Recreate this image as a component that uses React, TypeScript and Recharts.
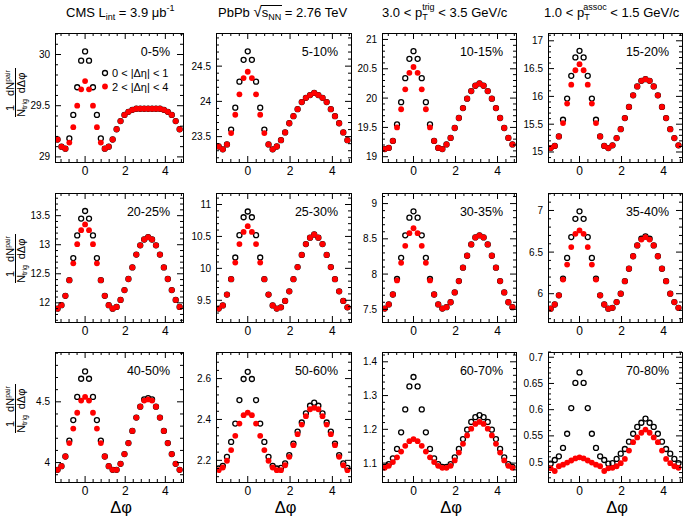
import React from 'react';
import { ScatterChart, Scatter, XAxis, YAxis } from 'recharts';

const FONT = '"Liberation Sans", Arial, Helvetica, sans-serif';

// bin centres in delta-phi (rad)
const dphi = [-1.374, -1.178, -0.982, -0.785, -0.589, -0.393, -0.196, 0, 0.196, 0.393, 0.589, 0.785, 0.982, 1.178, 1.374,
  1.571, 1.767, 1.963, 2.16, 2.356, 2.553, 2.749, 2.945, 3.142, 3.338, 3.534, 3.731, 3.927, 4.123, 4.32, 4.516, 4.712];

const centralityLabels = ['0-5%', '5-10%', '10-15%', '15-20%', '20-25%', '25-30%', '30-35%', '35-40%', '40-50%', '50-60%', '60-70%', '70-80%'];

const xTickLabels = [0, 2, 4];
const xAllTicks = [-1.2, -0.8, -0.4, 0, 0.4, 0.8, 1.2, 1.6, 2, 2.4, 2.8, 3.2, 3.6, 4, 4.4, 4.8];

// 0 < |deta| < 1 (open black) and 2 < |deta| < 4 (filled red)
const short_0_5 = [29.17, 29.10, 29.08, 29.18, 29.41, 29.68, 29.94, 30.03, 29.94, 29.68, 29.41, 29.18, 29.08, 29.10, 29.17, 29.27, 29.35, 29.41, 29.44, 29.46, 29.47, 29.47, 29.47, 29.47, 29.47, 29.47, 29.47, 29.46, 29.44, 29.41, 29.35, 29.27];
const long_0_5 = [29.17, 29.10, 29.08, 29.14, 29.29, 29.50, 29.66, 29.74, 29.66, 29.50, 29.29, 29.14, 29.08, 29.10, 29.17, 29.27, 29.35, 29.41, 29.44, 29.46, 29.47, 29.47, 29.47, 29.47, 29.47, 29.47, 29.47, 29.46, 29.44, 29.41, 29.35, 29.27];

const short_5_10 = [23.36, 23.32, 23.39, 23.60, 23.91, 24.28, 24.59, 24.71, 24.59, 24.28, 23.91, 23.60, 23.39, 23.32, 23.36, 23.45, 23.56, 23.69, 23.79, 23.89, 23.99, 24.05, 24.09, 24.12, 24.09, 24.05, 23.99, 23.89, 23.79, 23.69, 23.56, 23.45];
const long_5_10 = [23.36, 23.32, 23.39, 23.55, 23.81, 24.10, 24.33, 24.42, 24.33, 24.10, 23.81, 23.55, 23.39, 23.32, 23.36, 23.45, 23.56, 23.69, 23.79, 23.89, 23.99, 24.05, 24.09, 24.12, 24.09, 24.05, 23.99, 23.89, 23.79, 23.69, 23.56, 23.45];

const short_10_15 = [19.13, 19.15, 19.27, 19.55, 19.93, 20.34, 20.67, 20.80, 20.67, 20.34, 19.93, 19.55, 19.27, 19.15, 19.13, 19.21, 19.32, 19.49, 19.66, 19.83, 19.99, 20.12, 20.21, 20.25, 20.21, 20.12, 19.99, 19.83, 19.66, 19.49, 19.32, 19.21];
const long_10_15 = [19.13, 19.15, 19.27, 19.50, 19.81, 20.15, 20.43, 20.53, 20.43, 20.15, 19.81, 19.50, 19.27, 19.15, 19.13, 19.21, 19.32, 19.49, 19.66, 19.83, 19.99, 20.12, 20.21, 20.25, 20.21, 20.12, 19.99, 19.83, 19.66, 19.49, 19.32, 19.21];

const short_15_20 = [15.07, 15.11, 15.28, 15.58, 15.96, 16.37, 16.70, 16.82, 16.70, 16.37, 15.96, 15.58, 15.28, 15.11, 15.07, 15.12, 15.25, 15.41, 15.61, 15.81, 16.02, 16.18, 16.28, 16.31, 16.28, 16.18, 16.02, 15.81, 15.61, 15.41, 15.25, 15.12];
const long_15_20 = [15.07, 15.11, 15.28, 15.52, 15.87, 16.21, 16.47, 16.58, 16.47, 16.21, 15.87, 15.52, 15.28, 15.11, 15.07, 15.12, 15.25, 15.41, 15.61, 15.81, 16.02, 16.18, 16.28, 16.31, 16.28, 16.18, 16.02, 15.81, 15.61, 15.41, 15.25, 15.12];

const short_20_25 = [11.90, 11.96, 12.12, 12.39, 12.77, 13.16, 13.45, 13.58, 13.45, 13.16, 12.77, 12.39, 12.12, 11.96, 11.90, 11.93, 12.05, 12.22, 12.41, 12.61, 12.83, 12.99, 13.09, 13.13, 13.09, 12.99, 12.83, 12.61, 12.41, 12.22, 12.05, 11.93];
const long_20_25 = [11.90, 11.96, 12.12, 12.39, 12.68, 13.01, 13.25, 13.35, 13.25, 13.01, 12.68, 12.39, 12.12, 11.96, 11.90, 11.93, 12.05, 12.22, 12.41, 12.61, 12.83, 12.99, 13.09, 13.13, 13.09, 12.99, 12.83, 12.61, 12.41, 12.22, 12.05, 11.93];

const short_25_30 = [9.37, 9.42, 9.59, 9.83, 10.17, 10.52, 10.80, 10.89, 10.80, 10.52, 10.17, 9.83, 9.59, 9.42, 9.37, 9.39, 9.49, 9.64, 9.83, 10.02, 10.21, 10.38, 10.48, 10.53, 10.48, 10.38, 10.21, 10.02, 9.83, 9.64, 9.49, 9.39];
const long_25_30 = [9.37, 9.42, 9.59, 9.83, 10.09, 10.38, 10.57, 10.66, 10.57, 10.38, 10.09, 9.83, 9.59, 9.42, 9.37, 9.39, 9.49, 9.64, 9.83, 10.02, 10.21, 10.38, 10.48, 10.53, 10.48, 10.38, 10.21, 10.02, 9.83, 9.64, 9.49, 9.39];

const short_30_35 = [7.51, 7.57, 7.71, 7.93, 8.23, 8.55, 8.80, 8.89, 8.80, 8.55, 8.23, 7.93, 7.71, 7.57, 7.51, 7.53, 7.60, 7.74, 7.90, 8.09, 8.26, 8.42, 8.52, 8.55, 8.52, 8.42, 8.26, 8.09, 7.90, 7.74, 7.60, 7.53];
const long_30_35 = [7.51, 7.57, 7.71, 7.91, 8.16, 8.40, 8.58, 8.65, 8.58, 8.40, 8.16, 7.91, 7.71, 7.57, 7.51, 7.53, 7.60, 7.74, 7.90, 8.09, 8.26, 8.42, 8.52, 8.55, 8.52, 8.42, 8.26, 8.09, 7.90, 7.74, 7.60, 7.53];

const short_35_40 = [5.82, 5.87, 5.98, 6.18, 6.43, 6.68, 6.90, 6.99, 6.90, 6.68, 6.43, 6.18, 5.98, 5.87, 5.82, 5.83, 5.90, 6.00, 6.15, 6.30, 6.45, 6.58, 6.66, 6.69, 6.66, 6.58, 6.45, 6.30, 6.15, 6.00, 5.90, 5.83];
const long_35_40 = [5.82, 5.87, 5.98, 6.17, 6.35, 6.56, 6.72, 6.76, 6.72, 6.56, 6.35, 6.17, 5.98, 5.87, 5.82, 5.83, 5.90, 6.00, 6.15, 6.30, 6.45, 6.58, 6.65, 6.68, 6.65, 6.58, 6.45, 6.30, 6.15, 6.00, 5.90, 5.83];

const short_40_50 = [3.94, 3.97, 4.05, 4.18, 4.35, 4.54, 4.69, 4.75, 4.69, 4.54, 4.35, 4.18, 4.05, 3.97, 3.94, 3.94, 3.99, 4.07, 4.16, 4.26, 4.37, 4.46, 4.52, 4.53, 4.52, 4.46, 4.37, 4.26, 4.16, 4.07, 3.99, 3.94];
const long_40_50 = [3.94, 3.97, 4.05, 4.16, 4.28, 4.41, 4.51, 4.54, 4.51, 4.41, 4.28, 4.16, 4.05, 3.97, 3.94, 3.94, 3.99, 4.07, 4.16, 4.26, 4.37, 4.46, 4.51, 4.52, 4.51, 4.46, 4.37, 4.26, 4.16, 4.07, 3.99, 3.94];

const short_50_60 = [2.160, 2.173, 2.217, 2.290, 2.380, 2.495, 2.598, 2.633, 2.598, 2.495, 2.380, 2.290, 2.217, 2.173, 2.160, 2.163, 2.185, 2.225, 2.282, 2.340, 2.385, 2.430, 2.467, 2.482, 2.467, 2.430, 2.385, 2.340, 2.282, 2.225, 2.185, 2.163];
const long_50_60 = [2.152, 2.165, 2.198, 2.250, 2.320, 2.380, 2.421, 2.433, 2.421, 2.380, 2.320, 2.250, 2.198, 2.165, 2.152, 2.152, 2.176, 2.217, 2.274, 2.328, 2.375, 2.416, 2.450, 2.457, 2.450, 2.416, 2.375, 2.328, 2.274, 2.217, 2.176, 2.152];

const short_60_70 = [1.089, 1.097, 1.114, 1.142, 1.191, 1.259, 1.327, 1.355, 1.327, 1.259, 1.191, 1.142, 1.114, 1.097, 1.089, 1.089, 1.097, 1.117, 1.142, 1.171, 1.199, 1.222, 1.236, 1.242, 1.236, 1.222, 1.199, 1.171, 1.142, 1.117, 1.097, 1.089];
const long_60_70 = [1.086, 1.092, 1.103, 1.117, 1.134, 1.151, 1.165, 1.171, 1.165, 1.151, 1.134, 1.117, 1.103, 1.092, 1.086, 1.086, 1.092, 1.108, 1.131, 1.157, 1.182, 1.202, 1.216, 1.222, 1.216, 1.202, 1.182, 1.157, 1.131, 1.108, 1.092, 1.086];

const short_70_80 = [0.497, 0.504, 0.511, 0.527, 0.554, 0.603, 0.651, 0.671, 0.651, 0.603, 0.554, 0.527, 0.511, 0.504, 0.497, 0.498, 0.506, 0.516, 0.525, 0.539, 0.554, 0.567, 0.575, 0.583, 0.575, 0.567, 0.554, 0.539, 0.525, 0.516, 0.506, 0.498];
const long_70_80 = [0.488, 0.483, 0.492, 0.495, 0.499, 0.503, 0.507, 0.509, 0.507, 0.503, 0.499, 0.495, 0.492, 0.483, 0.488, 0.489, 0.492, 0.498, 0.506, 0.522, 0.538, 0.547, 0.556, 0.562, 0.556, 0.547, 0.538, 0.522, 0.506, 0.498, 0.492, 0.489];

// y tick labels per panel
const yTicks_0_5 = [29, 29.5, 30];
const yTicks_5_10 = [23.5, 24, 24.5];
const yTicks_10_15 = [19, 19.5, 20, 20.5, 21];
const yTicks_15_20 = [15, 15.5, 16, 16.5, 17];
const yTicks_20_25 = [12, 12.5, 13, 13.5];
const yTicks_25_30 = [9.5, 10, 10.5, 11];
const yTicks_30_35 = [7.5, 8, 8.5, 9];
const yTicks_35_40 = [6, 6.5, 7];
const yTicks_40_50 = [4, 4.5];
const yTicks_50_60 = [2.2, 2.4, 2.6];
const yTicks_60_70 = [1.1, 1.2, 1.3, 1.4];
const yTicks_70_80 = [0.5, 0.55, 0.6, 0.65, 0.7];

const panels = [
  { label: centralityLabels[0], s: short_0_5, l: long_0_5, domain: [28.95, 30.21], ticks: yTicks_0_5, minor: 0.1 },
  { label: centralityLabels[1], s: short_5_10, l: long_5_10, domain: [23.14, 24.97], ticks: yTicks_5_10, minor: 0.1 },
  { label: centralityLabels[2], s: short_10_15, l: long_10_15, domain: [18.91, 21.11], ticks: yTicks_10_15, minor: 0.1 },
  { label: centralityLabels[3], s: short_15_20, l: long_15_20, domain: [14.82, 17.14], ticks: yTicks_15_20, minor: 0.1 },
  { label: centralityLabels[4], s: short_20_25, l: long_20_25, domain: [11.67, 13.89], ticks: yTicks_20_25, minor: 0.1 },
  { label: centralityLabels[5], s: short_25_30, l: long_25_30, domain: [9.16, 11.18], ticks: yTicks_25_30, minor: 0.1 },
  { label: centralityLabels[6], s: short_30_35, l: long_30_35, domain: [7.32, 9.15], ticks: yTicks_30_35, minor: 0.1 },
  { label: centralityLabels[7], s: short_35_40, l: long_35_40, domain: [5.66, 7.21], ticks: yTicks_35_40, minor: 0.1 },
  { label: centralityLabels[8], s: short_40_50, l: long_40_50, domain: [3.84, 4.91], ticks: yTicks_40_50, minor: 0.1 },
  { label: centralityLabels[9], s: short_50_60, l: long_50_60, domain: [2.094, 2.73], ticks: yTicks_50_60, minor: 0.04 },
  { label: centralityLabels[10], s: short_60_70, l: long_60_70, domain: [1.044, 1.429], ticks: yTicks_60_70, minor: 0.02 },
  { label: centralityLabels[11], s: short_70_80, l: long_70_80, domain: [0.462, 0.71], ticks: yTicks_70_80, minor: 0.01 },
];

const X_DOMAIN = [-1.5, 4.88];
const COLS = [[55, 183], [216, 351], [382, 516], [548, 682]];
const ROWS = [[33, 162], [193, 322], [352, 482]];

const isIn = (arr: number[], v: number) => arr.some((m) => Math.abs(m - v) < 1e-6);

function tickList(domain: number[], step: number) {
  const out: number[] = [];
  const i0 = Math.ceil(domain[0] / step - 1e-9);
  const i1 = Math.floor(domain[1] / step + 1e-9);
  for (let i = i0; i <= i1; i++) out.push(Math.round(i * step * 1e6) / 1e6);
  return out;
}

const MAJ = 6;
const MIN = 3;

const BottomTick = (p: any) => {
  const v = p.payload.value;
  if (!isIn(xTickLabels, v)) return <g />;
  return (
    <text x={p.x} y={p.y + 13} textAnchor="middle" fontSize={12} fontFamily={FONT} fill="#000">{String(v)}</text>
  );
};
const makeLeftTick = (majors: number[]) => (p: any) => {
  const v = p.payload.value;
  if (!isIn(majors, v)) return <g />;
  return (
    <text x={p.x - 5} y={p.y + 3.5} textAnchor="end" fontSize={10} fontFamily={FONT} fill="#000">{String(v)}</text>
  );
};

const OpenCircle = (p: any) => <circle cx={p.cx} cy={p.cy} r={2.5} fill="none" stroke="#000" strokeWidth={1.3} />;
const RedDot = (p: any) => <circle cx={p.cx} cy={p.cy} r={2.9} fill="#ff0000" />;

const YW = 45;   // left axis width
const XH = 30;   // bottom axis height

function Panel({ cfg, col, row }: any) {
  const [x0, x1] = COLS[col];
  const [y0, y1] = ROWS[row];
  const w = x1 - x0;
  const h = y1 - y0;
  const toPts = (arr: number[]) => dphi.map((x, i) => ({ x, y: arr[i] }));
  const yt = tickList(cfg.domain, cfg.minor);
  return (
    <>
      <div style={{ position: 'absolute', left: x0 - YW, top: y0 }}>
        <ScatterChart width={YW + w} height={h + XH} margin={{ top: 0, right: 0, bottom: 0, left: 0 }}>
          <XAxis xAxisId="b" type="number" dataKey="x" domain={X_DOMAIN} allowDataOverflow ticks={xAllTicks} interval={0}
            tickSize={0} tickMargin={0} tickLine={false} axisLine={false} height={XH} tick={BottomTick} />
          <YAxis yAxisId="l" type="number" dataKey="y" domain={cfg.domain} allowDataOverflow ticks={yt} interval={0}
            tickSize={0} tickMargin={0} tickLine={false} axisLine={false} width={YW} tick={makeLeftTick(cfg.ticks)} />
          <Scatter xAxisId="b" yAxisId="l" data={toPts(cfg.s)} shape={OpenCircle} isAnimationActive={false} />
          <Scatter xAxisId="b" yAxisId="l" data={toPts(cfg.l)} shape={RedDot} isAnimationActive={false} />
        </ScatterChart>
      </div>
      <div style={{ position: 'absolute', left: x0 - 0.5, top: y0 - 0.5, width: w + 1, height: h + 1, border: '1px solid #000', boxSizing: 'border-box', pointerEvents: 'none' }} />
    </>
  );
}

// inward ROOT-style tick marks on all four sides of a frame, at the same values as the axis ticks
function FrameTicks({ cfg, col, row }: any) {
  const [x0, x1] = COLS[col];
  const [y0, y1] = ROWS[row];
  const [d0, d1] = cfg.domain;
  const [X0, X1] = X_DOMAIN;
  const sx = (v: number) => x0 + ((v - X0) / (X1 - X0)) * (x1 - x0);
  const sy = (v: number) => y1 - ((v - d0) / (d1 - d0)) * (y1 - y0);
  const yt = tickList(cfg.domain, cfg.minor);
  const out: any[] = [];
  xAllTicks.forEach((t, i) => {
    const len = isIn(xTickLabels, t) ? MAJ : MIN;
    const x = sx(t);
    out.push(<rect key={'b' + i} x={x - 0.5} y={y1 - len} width={1} height={len} fill="#000" />);
    out.push(<rect key={'t' + i} x={x - 0.5} y={y0} width={1} height={len} fill="#000" />);
  });
  yt.forEach((t, i) => {
    const len = isIn(cfg.ticks, t) ? MAJ : MIN;
    const y = sy(t);
    out.push(<rect key={'l' + i} x={x0} y={y - 0.5} width={len} height={1} fill="#000" />);
    out.push(<rect key={'r' + i} x={x1 - len} y={y - 0.5} width={len} height={1} fill="#000" />);
  });
  return <g>{out}</g>;
}

const YTitle = ({ cx, cy }: { cx: number; cy: number }) => (
  <g transform={`translate(${cx},${cy}) rotate(-90)`} fontFamily={FONT} fontSize={11} fill="#000">
    <text x={-16} y={-2} textAnchor="middle">1</text>
    <text x={-16} y={9} textAnchor="middle">N<tspan fontSize={7} dy={2}>trig</tspan></text>
    <text x={9} y={-2} textAnchor="middle">dN<tspan fontSize={7} dy={-4}>pair</tspan></text>
    <text x={9} y={9} textAnchor="middle">dΔφ</text>
    <rect x={-25} y={-0.5} width={49} height={1} fill="#000" />
  </g>
);

function Overlay() {
  return (
    <svg width={685} height={517} style={{ position: 'absolute', left: 0, top: 0, pointerEvents: 'none' }}>
      {panels.map((cfg, i) => (
        <FrameTicks key={'ft' + i} cfg={cfg} col={i % 4} row={Math.floor(i / 4)} />
      ))}
      <g fontFamily={FONT} fontSize={13} fill="#000">
        <text x={66} y={17}>CMS L<tspan fontSize={9} dy={3}>int</tspan><tspan dy={-3}>{' = 3.9 μb'}</tspan><tspan fontSize={9} dy={-6}>-1</tspan></text>
        <text x={218} y={17}>{'PbPb '}<tspan fontSize={15}>√</tspan><tspan>s</tspan><tspan fontSize={9} dy={3}>NN</tspan><tspan dy={-3}>{' = 2.76 TeV'}</tspan></text>
        <rect x={261} y={5} width={21} height={1} fill="#000" />
        <text x={382} y={17}>{'3.0 < p'}<tspan fontSize={9} dy={3}>T</tspan><tspan fontSize={9} dx={-5.5} dy={-10}>trig</tspan><tspan dy={7}>{' < 3.5 GeV/c'}</tspan></text>
        <text x={544} y={17}>{'1.0 < p'}<tspan fontSize={9} dy={3}>T</tspan><tspan fontSize={9} dx={-5.5} dy={-10}>assoc</tspan><tspan dy={7}>{' < 1.5 GeV/c'}</tspan></text>
      </g>
      <YTitle cx={15.5} cy={92} />
      <YTitle cx={15.5} cy={258} />
      <YTitle cx={15.5} cy={408} />
      {COLS.map(([a, b], i) => (
        <text key={'dp' + i} x={(a + b) / 2 + 2} y={513} textAnchor="middle" fontSize={16.5} fontFamily={FONT} fill="#000">Δφ</text>
      ))}
      {panels.map((p, i) => {
        const [, x1] = COLS[i % 4];
        const [y0] = ROWS[Math.floor(i / 4)];
        return (
          <text key={'lab' + i} x={x1 - 13} y={y0 + 23} textAnchor="end" fontSize={12.5} fontFamily={FONT} fill="#000">{p.label}</text>
        );
      })}
      <g fontFamily={FONT} fontSize={11} fill="#000">
        <circle cx={105} cy={73} r={2.5} fill="none" stroke="#000" strokeWidth={1.3} />
        <text x={112} y={77}>{'0 < |Δη| < 1'}</text>
        <circle cx={105} cy={86.5} r={2.9} fill="#ff0000" />
        <text x={112} y={90.5}>{'2 < |Δη| < 4'}</text>
      </g>
    </svg>
  );
}

export default function App() {
  return (
    <div style={{ position: 'absolute', left: 0, top: 0, width: 685, height: 517, background: '#fff', overflow: 'hidden' }}>
      {panels.map((cfg, i) => (
        <Panel key={i} cfg={cfg} col={i % 4} row={Math.floor(i / 4)} />
      ))}
      <Overlay />
    </div>
  );
}
